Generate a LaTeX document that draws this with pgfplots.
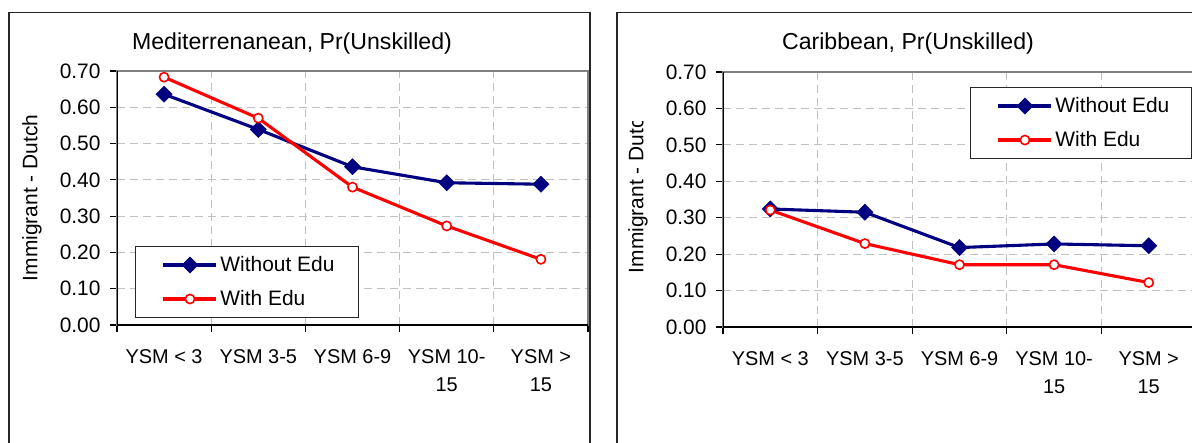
\documentclass[border=0pt]{standalone}
\usepackage{fontspec}
\setmainfont{Liberation Sans}
\usepackage{pgfplots}
\pgfplotsset{compat=1.18}
\definecolor{navy}{RGB}{0,0,128}
\definecolor{gridgray}{RGB}{192,192,192}
\definecolor{framegray}{RGB}{128,128,128}
\pgfplotsset{
  panel/.style={
    scale only axis,
    xmin=-0.5, xmax=4.5, ymin=0, ymax=0.7,
    xtick={0,1,2,3,4},
    xticklabels={YSM < 3, YSM 3-5, YSM 6-9, {YSM 10-\\15}, {YSM >\\15}},
    major x tick style={draw=none},
    minor xtick={-0.5,0.5,1.5,2.5,3.5,4.5},
    ytick={0,0.1,0.2,0.3,0.4,0.5,0.6,0.7},
    xminorgrids=true, ymajorgrids=true,
    grid style={gridgray, dash pattern=on 8bp off 5bp, line width=1bp},
    minor grid style={gridgray, dash pattern=on 8bp off 5bp, line width=1bp},
    tick align=outside, tick pos=left,
    major tick length=7bp, minor tick length=7bp,
    tick style={black, line width=1.1bp},
    axis line style={framegray, line width=1.2bp},
    /pgf/number format/assume math mode=true,
    yticklabel style={font=\fontsize{21}{25}\selectfont, xshift=-6bp,
      /pgf/number format/fixed, /pgf/number format/fixed zerofill, /pgf/number format/precision=2},
    xticklabel style={align=center, font=\fontsize{20}{28}\selectfont, anchor=north, yshift=-14bp},
    legend cell align=left,
    legend style={draw=black!85, line width=1bp, fill=white, inner xsep=0pt, inner ysep=1.5bp,
      nodes={inner sep=0pt, font=\fontsize{21}{25}\selectfont}},
    legend image code/.code={%
      \path[draw=none, fill=none] (0bp,-17bp) rectangle (85bp,17bp);
      \draw[mark repeat=2, mark phase=2, ##1] plot coordinates {(28bp,0bp) (54.5bp,0bp) (81bp,0bp)};},
  },
  woedu/.style={navy, line width=3.1bp, mark=square*, mark size=5.7bp,
    mark options={rotate=45, solid, fill=navy, draw=navy, line width=0.5bp}},
  wedu/.style={red, line width=3.1bp, mark=*, mark size=4.6bp,
    mark options={solid, fill=white, draw=red, line width=1.6bp}},
}
\begin{document}
\begin{tikzpicture}
\useasboundingbox (0,0) rectangle (1192bp,443bp);
\clip (0,0) rectangle (1192bp,443bp);
% chart frames
\draw[black!85, line width=1.2bp] (9bp,-20bp) -- (9bp,430.3bp) -- (590bp,430.3bp) -- (590bp,-20bp);
\draw[black!85, line width=1.2bp] (617bp,-20bp) -- (617bp,430.3bp) -- (1215bp,430.3bp);
% titles
\node[anchor=base, font=\fontsize{23.2}{27}\selectfont] at (292bp,393.7bp) {Mediterrenanean, Pr(Unskilled)};
\node[anchor=base, font=\fontsize{23.2}{27}\selectfont] at (908bp,393.7bp) {Caribbean, Pr(Unskilled)};
% y labels
\node[rotate=90, font=\fontsize{21}{25}\selectfont] at (32bp,245bp) {Immigrant - Dutch};
\begin{scope}
\clip (600bp,0bp) rectangle (700bp,321bp);
\node[rotate=90, font=\fontsize{21}{25}\selectfont] at (638bp,253bp) {Immigrant - Dutch};
\end{scope}

\begin{axis}[panel, width=471bp, height=254bp, at={(117bp,118bp)}, anchor=south west,
  legend style={at={(0.0382,0.311)}, anchor=north west}]
\addplot[woedu] coordinates {(0,0.636) (1,0.539) (2,0.436) (3,0.392) (4,0.388)};
\addlegendentry{\makebox[138bp][l]{Without Edu}}
\addplot[wedu] coordinates {(0,0.683) (1,0.570) (2,0.380) (3,0.273) (4,0.181)};
\addlegendentry{\makebox[138bp][l]{With Edu}}
\draw[black, line width=1.2bp] (rel axis cs:0,1) -- (rel axis cs:0,0) -- (rel axis cs:1,0);
\end{axis}

\begin{axis}[panel, width=473bp, height=255bp, at={(723bp,116bp)}, anchor=south west,
  legend style={at={(0.522,0.941)}, anchor=north west}]
\addplot[woedu] coordinates {(0,0.324) (1,0.315) (2,0.218) (3,0.228) (4,0.223)};
\addlegendentry{\makebox[136bp][l]{Without Edu}}
\addplot[wedu] coordinates {(0,0.321) (1,0.229) (2,0.171) (3,0.171) (4,0.122)};
\addlegendentry{\makebox[136bp][l]{With Edu}}
\draw[black, line width=1.2bp] (rel axis cs:0,1) -- (rel axis cs:0,0) -- (rel axis cs:1,0);
\end{axis}
\end{tikzpicture}
\end{document}
